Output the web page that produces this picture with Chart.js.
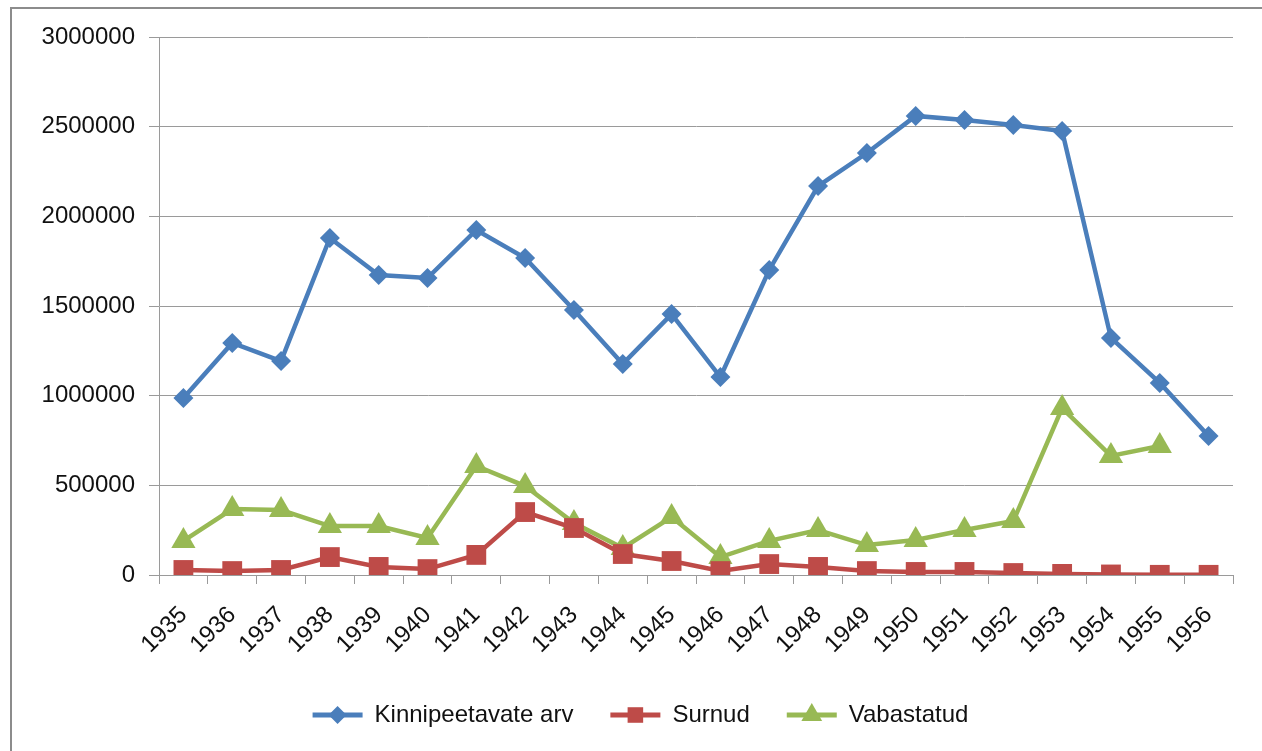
<!DOCTYPE html>
<html>
<head>
<meta charset="utf-8">
<script src="https://cdn.jsdelivr.net/npm/chart.js@4.4.1/dist/chart.umd.min.js"></script>
<style>
  html, body { margin: 0; padding: 0; background: #fff; overflow: hidden; }
  #frame { position: absolute; left: 10px; top: 7px; width: 1300px; height: 800px; border: 2px solid #8c8c8c; }
  #wrap { position: absolute; left: 0; top: 0; width: 1262px; height: 751px; }
</style>
</head>
<body>
<div id="frame"></div>
<div id="wrap"><canvas id="prisonChart" width="1262" height="751"></canvas></div>
<script>
const years = ['1935', '1936', '1937', '1938', '1939', '1940', '1941', '1942', '1943', '1944', '1945',
  '1946', '1947', '1948', '1949', '1950', '1951', '1952', '1953', '1954', '1955', '1956'];

const kinnipeetavad = [987000, 1294000, 1193000, 1879000, 1673000, 1656000, 1924000, 1768000, 1478000, 1177000, 1455000,
  1104000, 1701000, 2169000, 2353000, 2560000, 2537000, 2509000, 2476000, 1322000, 1071000, 775000];

const surnud = [28000, 22000, 28000, 100000, 45000, 33000, 112000, 351000, 262000, 117000, 78000,
  22000, 61000, 45000, 22000, 17000, 17000, 11000, 6000, 3000, 1000, 1000];

const vabastatud = [190000, 368000, 362000, 273000, 273000, 206000, 608000, 496000, 290000, 150000, 323000,
  100000, 190000, 251000, 167000, 195000, 251000, 301000, 931000, 664000, 719000, null];

const yTicks = [0, 500000, 1000000, 1500000, 2000000, 2500000, 3000000];

Chart.defaults.font.family = "'Liberation Sans', Arial, sans-serif";
Chart.defaults.font.size = 24;
Chart.defaults.color = '#111';

// shift legend a bit right (centred under the whole frame, not the plot)
const legendShift = {
  id: 'legendShift',
  afterLayout(chart) {
    if (!chart.legend) return;
    chart.legend.left += 24;
    chart.legend.right += 24;
  }
};

// draw the little marker on top of each legend line
const legendMarkers = {
  id: 'legendMarkers',
  afterDraw(chart) {
    const legend = chart.legend;
    if (!legend || !legend.legendHitBoxes) return;
    const ctx = chart.ctx;
    const sizes = [9, 11, 12];
    legend.legendHitBoxes.forEach((box, i) => {
      const ds = chart.data.datasets[i];
      ctx.save();
      ctx.fillStyle = ds.borderColor;
      Chart.helpers.drawPoint(ctx, {
        pointStyle: ds.pointStyle,
        radius: sizes[i],
        rotation: 0,
        borderWidth: 0
      }, box.left + 25, box.top + 12);
      ctx.restore();
    });
  }
};

const ctx = document.getElementById('prisonChart').getContext('2d');
const prisonChart = new Chart(ctx, {
  type: 'line',
  data: {
    labels: years,
    datasets: [{
      label: 'Kinnipeetavate arv',
      data: kinnipeetavad,
      borderColor: '#4a7ebb',
      backgroundColor: '#4a7ebb',
      borderWidth: 4.5,
      pointStyle: 'rectRot',
      pointRadius: 10,
      pointBorderWidth: 0,
    }, {
      label: 'Surnud',
      data: surnud,
      borderColor: '#be4b48',
      backgroundColor: '#be4b48',
      borderWidth: 4.5,
      pointStyle: 'rect',
      pointRadius: 14,
      pointBorderWidth: 0,
    }, {
      label: 'Vabastatud',
      data: vabastatud,
      borderColor: '#98b954',
      backgroundColor: '#98b954',
      borderWidth: 4.5,
      pointStyle: 'triangle',
      pointRadius: 14,
      pointBorderWidth: 0,
    }],
  },
  options: {
    responsive: false,
    animation: false,
    layout: {
      padding: { left: 0, right: 29, top: 37, bottom: 14 }
    },
    elements: {
      line: { tension: 0 },
    },
    scales: {
      x: {
        offset: true,
        grid: {
          offset: true,
          drawOnChartArea: false,
          drawTicks: true,
          tickLength: 9,
          color: '#9a9a9a',
        },
        border: { color: '#9a9a9a', width: 1 },
        ticks: {
          maxRotation: 45,
          minRotation: 45,
          padding: 17,
          autoSkip: false,
        },
        afterFit(scale) { scale.height = 91; },
      },
      y: {
        min: 0,
        max: 3000000,
        afterBuildTicks(scale) { scale.ticks = yTicks.map(v => ({ value: v })); },
        grid: {
          color: '#9a9a9a',
          tickLength: 10,
        },
        border: { color: '#9a9a9a', width: 1 },
        ticks: {
          padding: 14,
          callback: v => String(v),
        },
        afterFit(scale) { scale.width = 159; },
      },
    },
    plugins: {
      tooltip: { enabled: false },
      legend: {
        position: 'bottom',
        labels: {
          boxWidth: 50,
          boxHeight: 5,
          padding: 37,
          generateLabels(chart) {
            return Chart.defaults.plugins.legend.labels.generateLabels(chart)
              .map(item => Object.assign(item, { lineWidth: 0 }));
          },
        },
      },
    },
  },
  plugins: [legendShift, legendMarkers],
});
</script>
</body>
</html>
